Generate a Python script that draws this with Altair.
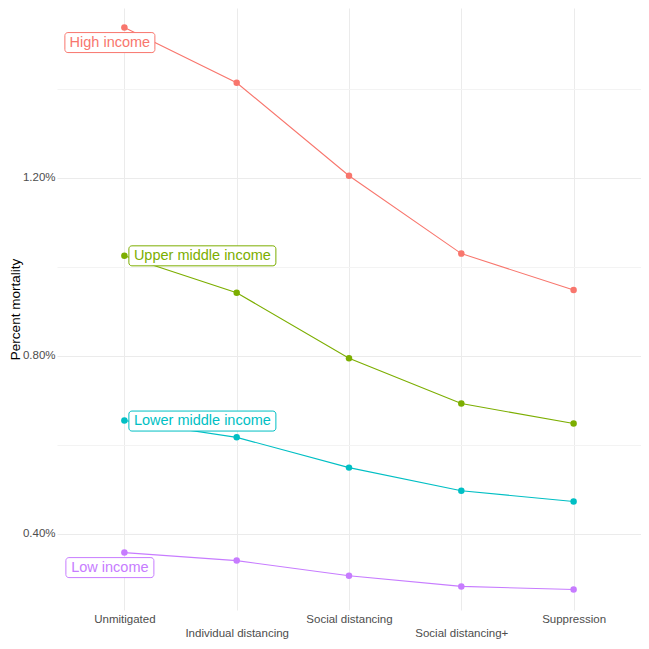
import altair as alt
import pandas as pd

categories = ["Unmitigated", "Individual distancing", "Social distancing",
              "Social distancing+", "Suppression"]
groups = ["High income", "Upper middle income", "Lower middle income", "Low income"]
high_income = [1.538, 1.414, 1.205, 1.030, 0.948]
upper_middle_income = [1.025, 0.942, 0.795, 0.693, 0.648]
lower_middle_income = [0.655, 0.617, 0.549, 0.497, 0.473]
low_income = [0.358, 0.340, 0.306, 0.282, 0.275]
colors = ["#F8766D", "#7CAE00", "#00BFC4", "#C77CFF"]
y_ticks = [0.4, 0.6, 0.8, 1.0, 1.2, 1.4]

series = [high_income, upper_middle_income, lower_middle_income, low_income]
rows = []
for g, vals in zip(groups, series):
    for i, (c, v) in enumerate(zip(categories, vals)):
        rows.append({"group": g, "scenario": c, "step": i, "mortality": v})
df = pd.DataFrame(rows)
labels_df = pd.DataFrame({
    "group": groups,
    "scenario": [categories[0]] * len(groups),
    "mortality": [s[0] for s in series],
})

FONT = "Liberation Sans"
color_scale = alt.Scale(domain=groups, range=colors)

x_enc = alt.X(
    "scenario:N", sort=categories,
    scale=alt.Scale(type="point", padding=0.6),
    axis=alt.Axis(
        title=None, domain=False, ticks=False, labelAngle=0, grid=True,
        labelFontSize=11.5, labelColor="#4D4D4D", labelFont=FONT,
        labelPadding={"condition": {"test": "indexof(['Individual distancing','Social distancing+'], datum.value) >= 0",
                                    "value": 17}, "value": 3},
        gridColor="#EBEBEB", gridWidth=1,
    ),
)
major_test = "round(datum.value * 10) % 4 == 0"
y_enc = alt.Y(
    "mortality:Q",
    scale=alt.Scale(domain=[0.229, 1.582], nice=False, zero=False),
    axis=alt.Axis(
        title="Percent mortality", values=y_ticks,
        labelExpr=f"{major_test} ? format(datum.value / 100, '.2%') : ''",
        domain=False, ticks=False,
        labelFontSize=11.5, labelColor="#4D4D4D", labelFont=FONT, labelPadding=2,
        titleFontSize=13.5, titleFont=FONT, titleFontWeight="normal", titleColor="black",
        titlePadding=0,
        gridColor={"condition": {"test": major_test, "value": "#EBEBEB"}, "value": "#F3F3F3"},
        gridWidth=1,
    ),
)

base = alt.Chart(df)
lines = base.mark_line(strokeWidth=1.1).encode(
    x=x_enc, y=y_enc,
    color=alt.Color("group:N", scale=color_scale, legend=None),
    order="step:Q",
)
points = base.mark_circle(size=42, opacity=1).encode(
    x=x_enc, y=y_enc,
    color=alt.Color("group:N", scale=color_scale, legend=None),
)

# label styling: (x offset, y offset, box width)
label_style = {
    "High income": (-14.5, 15, 90),
    "Upper middle income": (78, 0, 147),
    "Lower middle income": (78, 0.6, 147),
    "Low income": (-14.5, 15, 88),
}
layers = [lines, points]
for g, col in zip(groups, colors):
    dx, dy, w = label_style[g]
    lab = alt.Chart(labels_df).transform_filter(alt.datum.group == g)
    box = lab.mark_rect(width=w, height=20, xOffset=dx, yOffset=dy, cornerRadius=3,
                        fill="white", stroke=col, strokeWidth=1).encode(x=x_enc, y=y_enc)
    txt = lab.mark_text(dx=dx, dy=dy, fontSize=14.5, font=FONT, color=col,
                        align="center", baseline="middle").encode(
        x=x_enc, y=y_enc, text="group:N")
    layers += [box, txt]

chart = alt.layer(*layers).properties(
    width=584, height=602, padding=0,
).configure(font=FONT, view=alt.ViewConfig(stroke=None, strokeWidth=0))

chart.save("out.html", embed_options={"renderer": "svg", "actions": False})
